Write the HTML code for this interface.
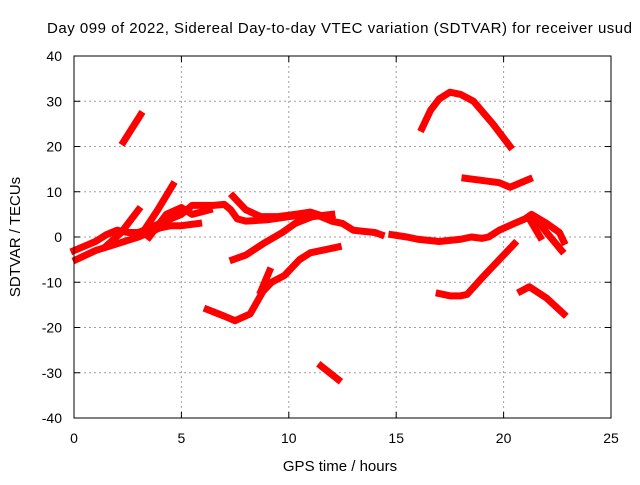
<!DOCTYPE html>
<html><head><meta charset="utf-8"><style>
body{margin:0;background:#fff;}
svg{font-family:"Liberation Sans",sans-serif;}
</style></head><body>
<svg id="chart" width="640" height="480">
<text x="47" y="33" font-size="15" textLength="585" lengthAdjust="spacing">Day 099 of 2022, Sidereal Day-to-day VTEC variation (SDTVAR) for receiver usud</text>
<g id="grid"></g><g id="ticks"></g><g id="marks"></g>
<rect x="74" y="56" width="537" height="362" fill="none" stroke="#000" stroke-width="1"/>
<text x="340" y="471" font-size="15" text-anchor="middle">GPS time / hours</text>
<text transform="translate(20,237) rotate(-90)" font-size="15" text-anchor="middle">SDTVAR / TECUs</text>
</svg>
<script>
const xTicks=[0,5,10,15,20,25];
const yTicks=[-40,-30,-20,-10,0,10,20,30,40];
const arc1=[[2.3,21],[2.7,24],[3.1,27]];
const arc2=[[16.2,24],[16.6,28],[17,30.5],[17.5,32],[18,31.5],[18.6,30],[19.5,25],[20.3,20]];
const arc3=[[18.2,13],[19,12.5],[19.8,12],[20.3,11],[21.2,12.8]];
const arc4=[[11.5,-28.5],[12.3,-31.5]];
const arc5=[[6.2,-16],[7,-17.5],[7.5,-18.5],[8.2,-17],[8.8,-12],[9.2,-10],[9.8,-8.5],[10.5,-5],[11,-3.5],[12,-2.5],[12.3,-2.2]];
const arc5b=[[8.7,-12],[9.1,-7.5]];
const arc6=[[7.4,-5],[8,-4],[8.8,-1.5],[9.7,1],[10.3,3],[11.1,4.5],[12,5]];
const arc7=[[0,-3],[0.5,-2],[1,-1],[1.5,0.5],[2,1.5],[2.5,1],[3,1],[4,3],[5,5],[5.5,7],[6.5,7],[7,7.2],[7.3,6],[7.6,4],[8,3.5],[9,3.8],[10,4.5],[11,5],[11.5,4.5],[12,3.5],[12.5,3],[13,1.5],[14,1],[14.3,0.5]];
const arc8=[[14.8,0.5],[15.5,0],[16,-0.5],[17,-1],[18,-0.5],[18.5,0],[19,-0.3],[19.3,0],[19.8,1.5],[20.5,3],[21,4],[21.3,5],[22,3],[22.6,1],[22.8,-1]];
const arc9=[[21.5,4],[22,1],[22.7,-3]];
const arc10=[[21.2,4],[21.7,0]];
const arc11=[[7.4,9],[8,6],[8.7,4.5],[9.5,4.5],[10.3,5],[11,5.5],[12,4]];
const arc12=[[0.1,-5],[1,-3],[2,-1.5],[3,0],[3.5,1],[4,2],[4.5,2.5],[5,2.5],[5.8,3]];
const arc13=[[1.5,-2],[2.2,1],[3,6]];
const arc14=[[3.2,1],[3.9,6],[4.6,11.5]];
const arc15=[[3.5,0],[4.3,5],[5,6.5],[5.5,5],[6.3,6]];
const arc16=[[17,-12.5],[17.5,-13],[18,-13],[18.3,-12.7],[19,-9],[20,-4],[20.5,-1.5]];
const arc17=[[20.8,-12],[21.2,-11],[22,-13.5],[22.8,-17]];
const series=[arc1,arc2,arc3,arc4,arc5,arc5b,arc6,arc7,arc8,arc9,arc10,arc11,arc12,arc13,arc14,arc15,arc16,arc17];
const X=h=>74+h*(537/25);
const Y=v=>237-v*(362/80);
const NS="http://www.w3.org/2000/svg";
const grid=document.getElementById('grid'),ticks=document.getElementById('ticks'),marks=document.getElementById('marks');
function mk(tag,attrs,parent){const e=document.createElementNS(NS,tag);for(const k in attrs)e.setAttribute(k,attrs[k]);parent.appendChild(e);return e;}
xTicks.forEach(t=>{
 if(t>0&&t<25){const g=mk('line',{x1:X(t),x2:X(t),y1:56,y2:418,stroke:'#a0a0a0','stroke-dasharray':'2,3'},grid);
 
 }
 mk('line',{x1:X(t),x2:X(t),y1:418,y2:412,stroke:'#000'},ticks);
 mk('line',{x1:X(t),x2:X(t),y1:56,y2:62,stroke:'#000'},ticks);
 const l=mk('text',{x:X(t),y:443,'font-size':14,'text-anchor':'middle'},ticks);l.textContent=t;
 
 
});
yTicks.forEach(t=>{
 if(t>-40&&t<40){const g=mk('line',{x1:74,x2:611,y1:Y(t),y2:Y(t),stroke:'#a0a0a0','stroke-dasharray':'2,3'},grid);
 
 }
 mk('line',{x1:74,x2:80,y1:Y(t),y2:Y(t),stroke:'#000'},ticks);
 mk('line',{x1:605,x2:611,y1:Y(t),y2:Y(t),stroke:'#000'},ticks);
 const l=mk('text',{x:62,y:Y(t)+5,'font-size':14,'text-anchor':'end'},ticks);l.textContent=t;
 
 
});
series.forEach(s=>{
 const p=mk('polyline',{points:s.map(d=>X(d[0])+','+Y(d[1])).join(' '),fill:'none',stroke:'#ff0000','stroke-width':7,'stroke-linejoin':'round','stroke-linecap':'square'},marks);
 
 
});
</script>
</body></html>
